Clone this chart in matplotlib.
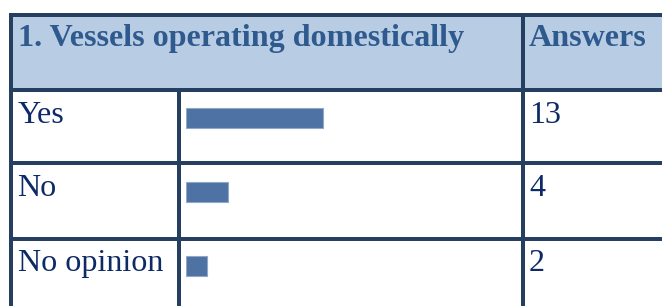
import matplotlib
matplotlib.use("Agg")
import matplotlib.pyplot as plt

title = "1. Vessels operating domestically"
answers_header = "Answers"
categories = ["Yes", "No", "No opinion"]
values = [13, 4, 2]

W, H = 662, 306
BORDER = "#243f60"
HEADER_BG = "#b8cce4"
HEADER_TXT = "#2e5a8e"
BODY_TXT = "#0d2a66"
BAR = "#4e72a3"
BAR_EDGE = "#8fa8c8"
LW = 4 * 72 / 100

fig = plt.figure(figsize=(W / 100, H / 100), dpi=100)
ax = fig.add_axes([0, 0, 1, 1])
ax.set_xlim(0, W)
ax.set_ylim(H, 0)
ax.axis("off")

# header background
ax.fill_between([12, W], 16, 88, color=HEADER_BG, lw=0, zorder=0)

# grid lines
row_lines = [14.5, 90, 163, 239]
for y in row_lines:
    ax.plot([9, W], [y, y], color=BORDER, lw=LW, solid_capstyle="butt", zorder=3)
ax.plot([10.5, 10.5], [13, H], color=BORDER, lw=LW, solid_capstyle="butt", zorder=3)
ax.plot([179, 179], [88, H], color=BORDER, lw=LW, solid_capstyle="butt", zorder=3)
ax.plot([523, 523], [13, H], color=BORDER, lw=LW, solid_capstyle="butt", zorder=3)

serif = ["Liberation Serif", "DejaVu Serif"]
ax.text(18, 46, title, family=serif, fontsize=23.1, fontweight="bold",
        color=HEADER_TXT, va="baseline", ha="left")
ax.text(529, 46, answers_header, family=serif, fontsize=23.1, fontweight="bold",
        color=HEADER_TXT, va="baseline", ha="left")

baselines = [122.7, 196, 271]
for cat, v, yb in zip(categories, values, baselines):
    ax.text(17.5, yb, cat, family=serif, fontsize=23.1, color=BODY_TXT,
            va="baseline", ha="left")
    ax.text(529, yb, str(v), family=serif, fontsize=23.1, color=BODY_TXT,
            va="baseline", ha="left")

# bar axes: 10.55 px per unit, rows 74 px apart
px_per_unit = 10.55
xmax = 15
left_px = 186
top_px = 81
bottom_px = 303.5
bax = fig.add_axes([left_px / W, 1 - bottom_px / H,
                    px_per_unit * xmax / W, (bottom_px - top_px) / H])
bax.barh(range(len(categories)), values, height=0.27, color=BAR,
         edgecolor=BAR_EDGE, linewidth=0.8)
bax.set_xlim(0, xmax)
bax.set_ylim(len(categories) - 0.5, -0.5)
bax.axis("off")
bax.patch.set_alpha(0)

fig.savefig("out.png", dpi=100)
